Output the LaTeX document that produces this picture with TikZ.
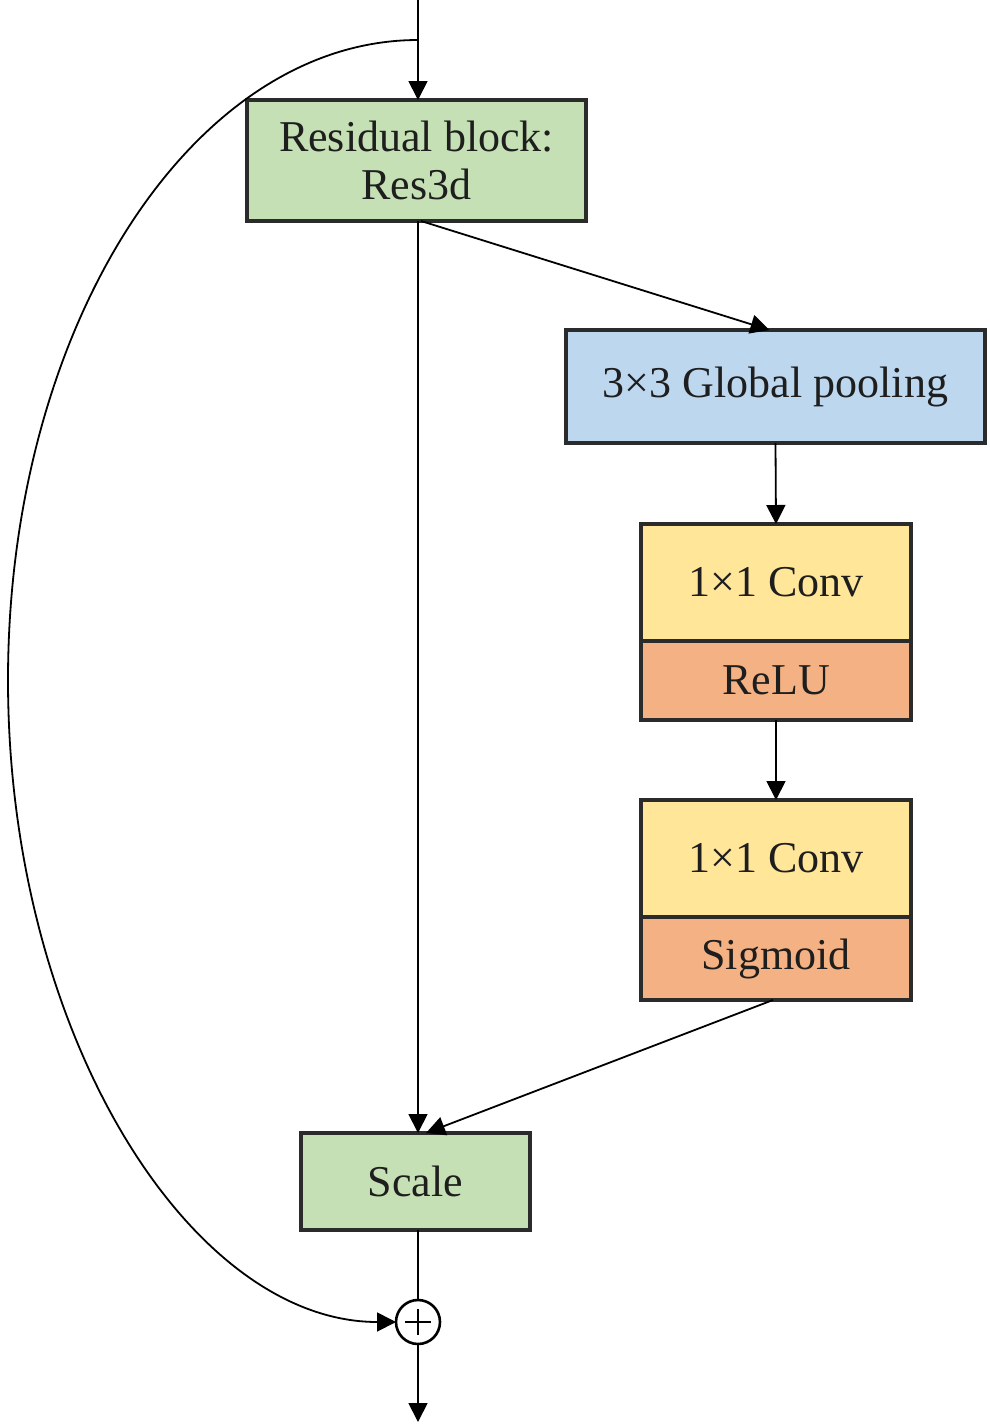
\documentclass[tikz,border=0pt]{standalone}
\usepackage{fontspec}
\setmainfont{Liberation Serif}
\usetikzlibrary{arrows.meta,positioning}
\definecolor{cgreen}{HTML}{C5E0B4}
\definecolor{cblue}{HTML}{BDD7EE}
\definecolor{cyellow}{HTML}{FFE699}
\definecolor{corange}{HTML}{F4B183}
\definecolor{cborder}{HTML}{2B2B2B}
\definecolor{ctext}{HTML}{1E1E1E}
\begin{document}
\begin{tikzpicture}[x=1pt,y=-1pt,
  blk/.style={draw=cborder,line width=3.2pt,inner sep=0pt,outer sep=0pt,text=ctext,
    font=\fontsize{44}{52}\selectfont,align=center},
  conn/.style={draw=black,line width=1.8pt,-{Triangle[length=19pt,width=19pt]}},
  plain/.style={draw=black,line width=1.8pt}]
\useasboundingbox[fill=white] (0,0) rectangle (990,1428);
% boxes
\node[blk,fill=cgreen,minimum width=339pt,minimum height=121pt] (res) at (416.5,160.5) {Residual block:\\[-4pt]Res3d};
\node[blk,fill=cblue,minimum width=419pt,minimum height=113pt] (gp) at (775.5,386.5) {3×3 Global pooling};
\node[blk,fill=cyellow,minimum width=270pt,minimum height=117pt] (c1) at (776,582.5) {1×1 Conv};
\node[blk,fill=corange,minimum width=270pt,minimum height=79pt] (r1) at (776,680.5) {ReLU};
\node[blk,fill=cyellow,minimum width=270pt,minimum height=117pt] (c2) at (776,858.5) {1×1 Conv};
\node[blk,fill=corange,minimum width=270pt,minimum height=83pt] (s1) at (776,958.5) {Sigmoid};
\node[blk,fill=cgreen,minimum width=229pt,minimum height=97pt] (sc) at (415.5,1181.5) {Scale};
\node[draw=black,line width=2.6pt,circle,minimum size=44pt,inner sep=0pt,outer sep=0pt] (plus) at (418,1322) {};
\draw[line width=2.6pt] ([xshift=-13pt]plus.center) -- ([xshift=13pt]plus.center)
  ([yshift=-13pt]plus.center) -- ([yshift=13pt]plus.center);
% coordinates
\coordinate (top) at (418,0);
\coordinate (split) at (418,40);
\coordinate (out) at (418,1422);
\coordinate (left) at (8,680);
% connectors
\draw[conn] (top) -- (res.north -| top);
\draw[plain] (split) .. controls (192,40) and (8,327) .. (left);
\draw[conn] (left) .. controls (8,1033) and (190,1322) .. (plus.west);
\draw[conn] (res.south -| top) -- (sc.north -| top);
\draw[conn] ([xshift=3pt]res.south -| top) -- ([xshift=-6pt]gp.north);
\draw[conn] (gp.south) -- (c1.north);
\draw[conn] (r1.south) -- (c2.north);
\draw[conn] ([xshift=-3pt]s1.south) -- ([xshift=8pt]sc.north -| top);
\draw[plain] (sc.south -| plus) -- (plus.north);
\draw[conn] (plus.south) -- (out);
\end{tikzpicture}
\end{document}
